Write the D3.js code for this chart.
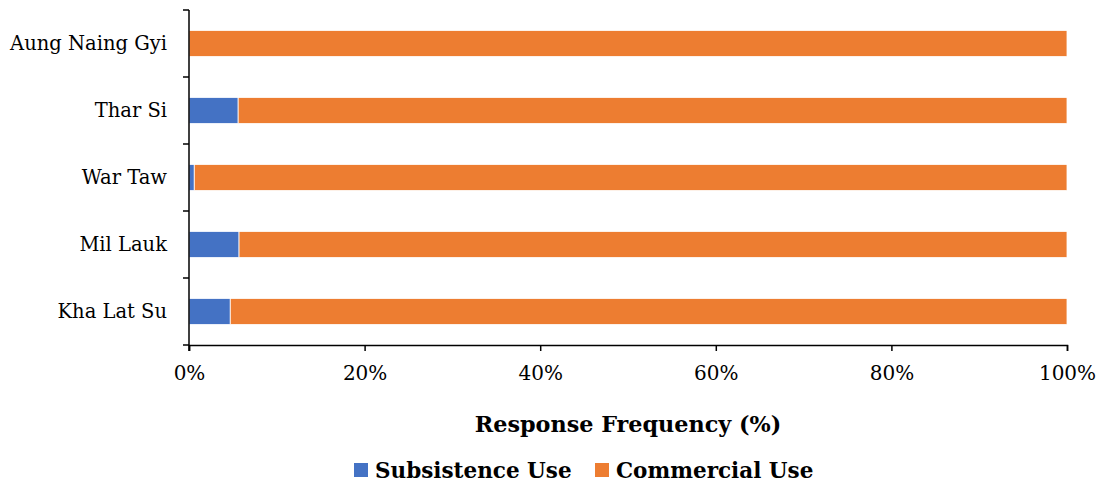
<!DOCTYPE html>
<html>
<head>
<meta charset="utf-8">
<script src="https://cdn.jsdelivr.net/npm/d3@7"></script>
<style>
  body { margin: 0; background: #fff; }
  svg text { font-family: "DejaVu Serif", "Liberation Serif", serif; fill: #000; }
</style>
</head>
<body>
<svg id="chart" width="1105" height="486"></svg>
<script>
const sites = ["Aung Naing Gyi", "Thar Si", "War Taw", "Mil Lauk", "Kha Lat Su"];
const subsistence = [0, 5.6, 0.6, 5.7, 4.7];
const commercial = [100, 94.4, 99.4, 94.3, 95.3];
const seriesNames = ["Subsistence Use", "Commercial Use"];
const colors = ["#4472C4", "#ED7D31"];
const xTicks = [0, 20, 40, 60, 80, 100];

const margin = {left: 189, right: 38, top: 10, bottom: 141};
const width = 1105, height = 486;
const innerWidth = width - margin.left - margin.right;
const innerHeight = height - margin.top - margin.bottom;

const svg = d3.select('#chart');
const g = svg.append('g').attr('transform', `translate(${margin.left},${margin.top})`);

const x = d3.scaleLinear().domain([0, 100]).range([0, innerWidth]);
const pad = 0.61;
const y = d3.scaleBand().domain(sites).range([0, innerHeight]).paddingInner(pad).paddingOuter(pad / 2);

const rows = sites.map((s, i) => ({site: s, sub: subsistence[i], com: commercial[i]}));
const stacked = d3.stack().keys(["sub", "com"])(rows);

g.selectAll('g.series')
  .data(stacked)
  .join('g')
    .attr('class', 'series')
    .attr('fill', (d, i) => colors[i])
  .selectAll('rect')
  .data(d => d)
  .join('rect')
    .attr('x', d => x(d[0]))
    .attr('y', d => y(d.data.site))
    .attr('width', d => Math.max(0, x(d[1]) - x(d[0])))
    .attr('height', y.bandwidth())
    .attr('stroke', '#fff')
    .attr('stroke-width', 0.8);

// x axis
const xAxis = g.append('g')
  .attr('transform', `translate(0,${innerHeight})`)
  .call(d3.axisBottom(x).tickValues(xTicks).tickFormat(d => d + '%').tickSizeOuter(0).tickSize(6));
xAxis.select('.domain').attr('stroke', '#000').attr('stroke-width', 1.5);
xAxis.selectAll('.tick line').attr('stroke', '#000').attr('stroke-width', 1.5);
xAxis.selectAll('.tick text')
  .attr('font-family', '"DejaVu Serif", serif')
  .attr('font-size', 20)
  .attr('y', 16)
  .attr('dy', '0.95em')
  .attr('fill', '#000');

// y axis with ticks on band boundaries
const yAxis = g.append('g');
yAxis.append('line')
  .attr('x1', 0).attr('x2', 0).attr('y1', 0).attr('y2', innerHeight + 6)
  .attr('stroke', '#000').attr('stroke-width', 1.5);
const bounds = d3.range(sites.length + 1).map(i => i * y.step());
yAxis.selectAll('line.tk')
  .data(bounds)
  .join('line')
    .attr('class', 'tk')
    .attr('x1', -6).attr('x2', 0)
    .attr('y1', d => d).attr('y2', d => d)
    .attr('stroke', '#000').attr('stroke-width', 1.5);
yAxis.selectAll('text')
  .data(sites)
  .join('text')
    .attr('x', -22)
    .attr('y', d => y(d) + y.bandwidth() / 2)
    .attr('dy', '0.35em')
    .attr('text-anchor', 'end')
    .attr('font-size', 19.5)
    .text(d => d);

// axis title
svg.append('text')
  .attr('x', margin.left + innerWidth / 2)
  .attr('y', 432)
  .attr('text-anchor', 'middle')
  .attr('font-size', 22.3)
  .attr('font-weight', 'bold')
  .text('Response Frequency (%)');

// legend
const legend = svg.append('g').attr('transform', 'translate(354,470)');
const legendX = [0, 241];
seriesNames.forEach((name, i) => {
  const item = legend.append('g').attr('transform', `translate(${legendX[i]},0)`);
  item.append('rect').attr('x', 0).attr('y', -7).attr('width', 14).attr('height', 14).attr('fill', colors[i]);
  item.append('text')
    .attr('x', 21).attr('y', 0).attr('dy', '0.35em')
    .attr('font-size', 21.5).attr('font-weight', 'bold')
    .text(name);
});
</script>
</body>
</html>
